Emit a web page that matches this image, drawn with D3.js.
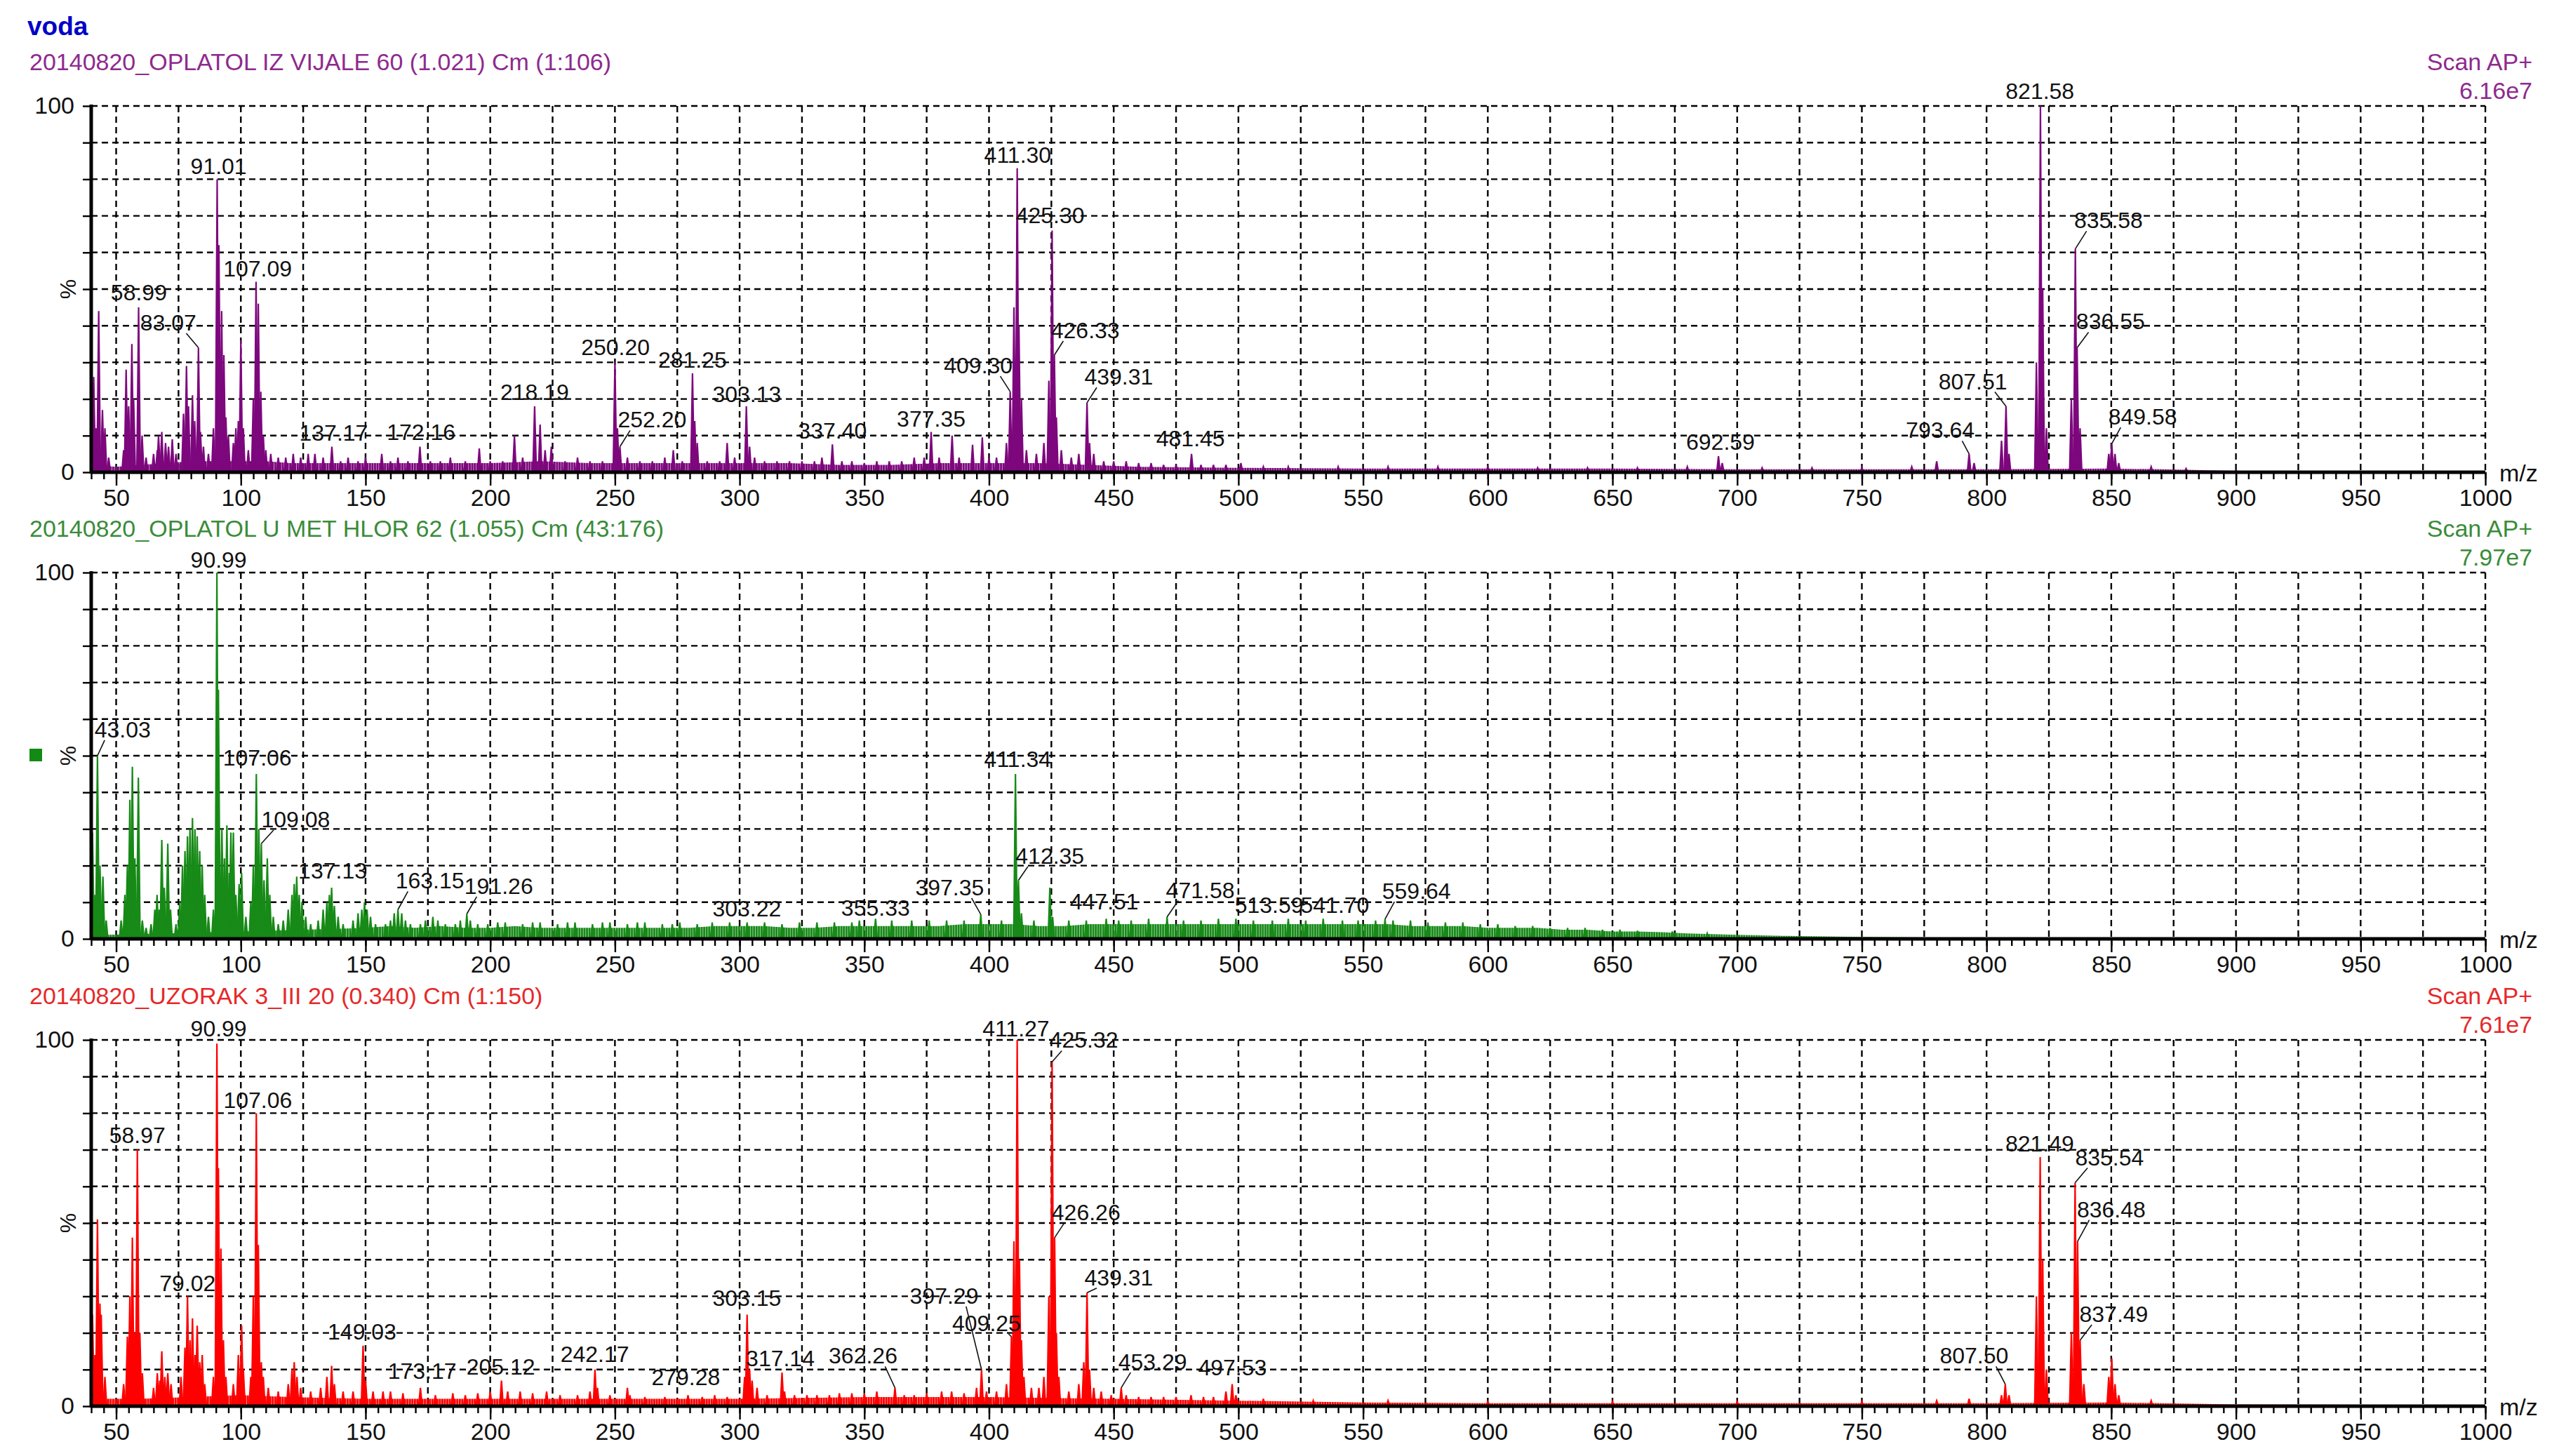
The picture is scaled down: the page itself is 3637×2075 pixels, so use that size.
<!DOCTYPE html>
<html><head><meta charset="utf-8">
<script src="https://cdn.jsdelivr.net/npm/d3@7"></script>
<style>
body{margin:0;background:#fff}
svg{display:block}
text{font-family:"Liberation Sans",Arial,sans-serif}
</style>
</head><body>
<svg id="chart" width="3637" height="2075"></svg>
<script>
// ---------------- DATA ----------------
const xMajorTicks = d3.range(50, 1001, 50);
const xMinorTicks = d3.range(40, 1001, 5);
const xGridValues = d3.range(50, 1001, 25);
const yGridValues = d3.range(10, 101, 10);
const yLabelTicks = [0, 100];

const titles = [
  "20140820_OPLATOL IZ VIJALE 60 (1.021) Cm (1:106)",
  "20140820_OPLATOL U MET HLOR 62 (1.055) Cm (43:176)",
  "20140820_UZORAK 3_III 20 (0.340) Cm (1:150)"
];
const scanLabels = ["Scan AP+", "Scan AP+", "Scan AP+"];
const intensities = ["6.16e7", "7.97e7", "7.61e7"];

// [m/z, relative intensity %]
const peaks1 = [[41,26],[42,12],[43,44],[44.5,17],[45.5,12],[47,4],[53,6],[54,28],[55,18],[56.3,35],[57,20],[59,45],[60.4,10],[62,4],[65,5],[66.5,6],[67,10],[68.3,11],[69.8,8],[71,7],[72.5,9],[74,5],[77,16],[78.2,29],[79,18],[80.6,21],[81.5,14],[83,34],[83.8,11],[85,7],[87,5],[89,12],[90.5,80],[91.2,62],[92.3,44],[93.2,32],[94,15],[95,10],[97,8],[98,12],[99,14],[100,36],[101,12],[103,6],[105,20],[106.1,52],[107,46],[108,22],[109,10],[110,6],[112,5],[115,4],[118,4],[121,5],[124,4],[127,5],[129.7,5],[133,4],[136.5,7],[140,3],[143,4],[147,3],[150,4],[156.5,5],[160,3],[163,4],[167,3],[171.8,7],[176,3],[180,3],[184,4],[190,3],[195.6,6.5],[200,3],[205,3],[209.7,10],[213,4],[217.8,18],[220,13],[222,6],[224.5,7],[230,3],[235,4],[240,3],[245,3],[250,30],[251,12],[252,7],[255,4],[260,3],[265,3],[270,4],[273.4,6],[277,3],[281.1,27],[282,14],[283,8],[287,3],[292,3],[295,8],[298,4],[302.7,18],[304,7],[306,4],[310,3],[315,3],[320,3],[325,3],[330,3],[333,4],[337.2,7.6],[341,3],[345,3],[350,2.5],[355,3],[360,3],[365,3],[370,4],[374,4],[376.8,11],[380,4],[385.2,10],[388,4],[393.4,7.5],[397.3,9.5],[400,4],[403,4],[407,8],[408.5,22],[410,45],[411.3,83],[412,40],[413,20],[415,6],[419,5],[422,8],[424,25],[425.3,66],[426.2,32],[427,15],[429,6],[433,4],[436,5],[439.3,19],[440.3,8],[442,5],[446,3],[450,3],[455,3],[460,2.5],[465,2.5],[470,2],[475,2],[481.2,5],[485,2],[490,2],[495,2],[501,2.5],[510,1.5],[520,1.5],[540,1.5],[560,1.5],[580,1.5],[600,1.5],[620,1.2],[640,1.2],[660,1.2],[680,1.5],[692.5,4.4],[694,2.5],[710,1.2],[730,1.2],[750,1.2],[770,1.5],[780,3],[793,5],[795,2.5],[806,8.6],[807.8,18],[809,5],[820,30],[821.6,100],[822.5,50],[824,12],[834,20],[835.6,61],[836.3,34],[837.5,12],[849,5],[850.2,7.8],[851.5,5],[853,2.5],[866,1.5],[880,1],[900,0.5]];
const noise1 = [[40,2],[50,1.5],[60,2],[70,2.5],[80,3],[90,3],[100,3],[110,3],[120,2.5],[140,2.5],[160,2.5],[180,2.5],[200,2.5],[220,3],[240,2.5],[260,2.5],[280,2.5],[300,2.5],[320,2.5],[340,2],[360,2],[380,2.5],[400,2.5],[420,2.5],[440,2],[460,1.5],[500,1.2],[550,1],[600,1],[650,1],[700,0.8],[750,0.8],[800,0.8],[850,1],[870,0.8],[900,0.4],[950,0.3],[1000,0.3]];

const peaks2 = [[40.5,29],[41.5,12],[42.5,50],[43.5,20],[44.7,17],[46,5],[52,5],[53.5,12],[54.5,20],[55.5,38],[56.5,47],[57.5,22],[58.9,44],[60.5,5],[62,3],[64,4],[65.5,8],[66.4,12],[67.3,8],[68.3,27],[69.3,14],[70.7,26],[71.8,8],[74,4],[75.5,10],[76.6,20],[77.6,24],[78.6,28],[79.6,30],[80.6,33],[81.6,30],[82.5,28],[83.5,24],[84.5,20],[85.5,12],[87,6],[89,8],[90.4,100],[91,68],[92.4,30],[93.4,22],[94.4,31],[95.4,18],[96,29],[97,29],[98,12],[99.3,15],[100.3,18],[102,6],[104,10],[105,20],[106.2,45],[107.2,30],[108.2,26],[109.3,16],[110.6,22],[111.6,12],[113,6],[115,4],[117,5],[119,8],[120.5,12],[121.4,15],[122.4,17],[123.4,12],[124.5,10],[126,6],[128,4],[131,5],[133,8],[134.5,10],[135.5,12],[136.4,14],[137.5,9],[139,6],[141,4],[145,5],[147,7],[148.5,8],[149.6,10],[150.6,8],[152,6],[154,4],[158,4],[160,5],[161.5,7],[163,8],[164.5,7],[166,5],[168,4],[172,4],[174,5],[177,6],[179,5],[182,4],[186,4],[188,5],[190.6,6.8],[192,5],[195,4],[199,4],[203,4.5],[206,4.5],[213,4],[217,4.5],[220,4.5],[227,4],[231,4.5],[234,4.5],[241,4],[245,4.5],[248,4.5],[255,4],[259,4.5],[262,4.5],[269,4],[273,4],[276,4.5],[283,4],[289,4.5],[296,4.5],[303,4.5],[310,4.5],[317,4],[324,4.5],[331,4.5],[338,4.5],[345,4.5],[348,5],[354.5,5.5],[361,5],[369,5],[376,5],[383,5],[390,5],[396.7,6.7],[405,5],[410.6,45],[411.8,16],[413,7],[418,5],[424.4,14],[425.5,6],[432,5],[439,5],[447,5.5],[452,5],[457,5],[464,5.5],[471.4,6],[478,5],[485,5],[492,5.5],[499,5.5],[506,5],[513.6,5],[520,5.5],[527,5],[534,5.5],[541.7,5],[548,5],[555,5],[558.8,5.4],[562,5],[569,5],[576,4.5],[583,4.5],[590,4.5],[597,4],[604,4],[611,3.5],[618,3.5],[625,3],[632,3],[639,3],[646,2.5],[653,2.5],[660,2.2],[674,2],[688,1.5]];
const noise2 = [[40,1],[100,2],[150,3],[160,3.5],[170,3],[180,3.5],[190,3],[200,3],[210,3.5],[220,3],[230,3],[240,3],[250,3],[260,3],[270,3],[280,3],[290,3.5],[300,3.5],[310,3.5],[320,3],[330,3],[340,3.5],[350,3.5],[360,3.5],[370,3.5],[380,3.5],[390,4],[400,4],[410,4],[420,3.5],[430,3.5],[440,4],[450,4],[460,4],[470,4],[480,4],[490,4],[500,4],[510,4],[520,4],[530,4],[540,4],[550,4],[560,4],[570,3.5],[580,3.5],[590,3.5],[600,3],[610,3],[620,3],[630,2.5],[640,2.5],[650,2],[660,2],[670,1.8],[680,1.5],[690,1.3],[700,1.1],[720,0.8],[740,0.6],[760,0.5],[780,0.4],[800,0.3],[850,0.2],[900,0.15],[1000,0.1]];

const peaks3 = [[40.5,25],[41.5,14],[42.5,51],[43.5,28],[44,25],[45.5,8],[53,6],[54.5,19],[55.5,30],[56.5,46],[57.5,20],[58.5,70],[59.5,20],[60.5,9],[65,5],[66.5,9],[67.5,7],[68.3,15],[69.5,8],[70.7,9],[72,6],[76,8],[77.6,16],[78.6,30],[79.6,18],[80.6,24],[81.6,14],[82.5,22],[83.5,12],[84.5,14],[85.5,6],[89,8],[90.4,99],[91,65],[92,43],[93,18],[94,8],[97,6],[99,14],[100.3,22],[101,10],[104,8],[105,30],[106.2,80],[107,44],[108.2,12],[109,8],[111,5],[115,4],[119,6],[120.5,10],[121.4,12],[122.5,8],[124,5],[128,4],[132,5],[134.5,8],[136.4,11],[137.5,6],[141,4],[145,4],[149,16.5],[150,7],[153,4],[157,4],[160,4],[165,3.5],[172,5],[178,3],[185,3.5],[190,3],[195,3.5],[200,4],[204.5,7],[207,4],[212,4],[217,3.5],[222.6,4],[228,3],[235,3],[240,4],[242,10],[243,5],[248,3],[255,5],[256,3],[262,2.5],[270,2.5],[279.3,3],[285,2.5],[290,3],[295,2.5],[302,8],[303,25],[304,10],[305,7],[307,5],[311,3],[317,9.2],[318,4],[322,3],[327,3],[331,3],[336,3],[340,3.5],[345,3.5],[350,3.5],[355,4],[362.3,5],[366,3],[370,3],[375,3.5],[381,4],[385,4],[390,3.5],[395,5],[397,10],[399,4],[403,4],[407,6],[409,19],[410,45],[411.3,100],[412.2,40],[413,18],[414,8],[417,5],[420,5],[422,8],[424,30],[425.3,94],[426.3,46],[427,20],[428,8],[432,4],[436,6],[438,12],[439.3,31],[440.3,10],[442,5],[445,4],[449,3],[453,5],[455,3],[460,2.5],[465,2.5],[470,2.5],[475,2.5],[481,3],[486,2.5],[490,2.5],[495,4],[497.5,6],[499,3],[510,2],[530,1.5],[560,1.5],[600,1.2],[650,1.2],[700,1.2],[750,1.2],[780,1.5],[793,2],[806,3],[807.5,6],[809,3],[820,30],[821.5,68],[822.5,40],[824,10],[834,20],[835.5,61],[836.5,45],[837.5,18],[839,6],[849,8],[850.2,13],[851.5,6],[853,3],[866,1.5]];
const noise3 = [[40,2],[60,2],[100,3],[120,2.5],[150,2],[200,2],[250,2],[300,2],[350,2.5],[400,2.5],[450,2],[500,1.5],[550,1],[600,0.8],[700,0.8],[800,0.8],[850,1],[900,0.5],[1000,0.3]];

// [text, peak m/z, peak %, label centre m/z, label baseline %]
const labels1 = [["58.99",59,45,59.1,47],["83.07",83,34,70.9,38.7],["91.01",90.5,80,91.1,81.5],["107.09",106.1,52,106.7,53.5],["137.17",136.5,7,137.2,8.6],["172.16",171.8,7,172.3,8.8],["218.19",217.8,18,217.8,19.8],["250.20",250,30,250.2,32],["252.20",252,7,264.9,12.2],["281.25",281.1,27,281.1,28.5],["303.13",302.7,18,302.9,19.1],["337.40",337.2,7.6,337.2,9.2],["377.35",376.8,11,376.8,12.4],["409.30",408.5,22,395.7,27],["411.30",411.3,83,411.5,84.4],["425.30",425.3,66,424.5,68],["426.33",426.2,32,438.6,36.6],["439.31",439.3,19,452,23.9],["481.45",481.2,5,480.8,7],["692.59",692.5,4.4,693.3,6.2],["793.64",793,5,781.4,9.3],["807.51",807.8,18,794.5,22.7],["821.58",821.6,100,821.4,102],["835.58",835.6,61,848.9,66.6],["836.55",836.3,34,849.7,39],["849.58",850.2,7.8,862.6,13]];
const labels2 = [["43.03",42.5,50,52.6,55],["90.99",90.4,100,91.1,101.3],["107.06",106.2,45,106.6,47.3],["109.08",108.2,26,122,30.5],["137.13",136.4,14,136.8,16.4],["163.15",163,8,175.8,13.7],["191.26",190.6,6.8,203.4,12.3],["303.22",303,4.5,302.9,6.2],["355.33",354.5,5.5,354.5,6.4],["397.35",396.7,6.7,384.2,11.9],["411.34",410.6,45,411.5,47],["412.35",411.8,16,424.4,20.5],["447.51",447,5.5,446.2,8],["471.58",471.4,6,484.7,11.2],["513.59",513.6,5,512.3,7],["541.70",541.7,5,538.7,7],["559.64",558.8,5.4,571.4,10.9]];
const labels3 = [["58.97",58.5,70,58.5,71.9],["79.02",78.6,30,78.6,31.5],["90.99",90.4,99,91.1,100.9],["107.06",106.2,80,106.8,81.5],["149.03",149,16.5,148.6,18.2],["173.17",172,5,172.7,7.5],["205.12",204.5,7,204.2,8.6],["242.17",242,10,241.9,12],["279.28",279.3,3,278.4,5.8],["303.15",303,25,302.9,27.4],["317.14",317,9.2,316.3,11],["362.26",362.3,5,349.5,11.6],["397.29",397,10,382,28],["409.25",409,19,399,20.5],["411.27",411.3,100,410.8,101],["425.32",425.3,94,438,97.8],["426.26",426.3,46,438.9,50.7],["439.31",439.3,31,452,33],["453.29",453,5,465.6,10],["497.53",497.5,6,497.6,8.4],["807.50",807.5,6,795,11.6],["821.49",821.5,68,821.3,69.5],["835.54",835.5,61,849.3,65.8],["836.48",836.5,45,850,51.6],["837.49",837.5,18,851,23]];

// ---------------- DRAW ----------------
const svg = d3.select("#chart");
const x = d3.scaleLinear().domain([40, 1000]).range([130, 3542]);
const panelH = 522;
const panels = [
  {top:151, line:"#7d077d", txt:"#8e2a8e", peaks:peaks1, noise:noise1, labels:labels1},
  {top:816, line:"#178a17", txt:"#3a8c3a", peaks:peaks2, noise:noise2, labels:labels2},
  {top:1482, line:"#ff0000", txt:"#e52a2a", peaks:peaks3, noise:noise3, labels:labels3}
];

svg.append("rect").attr("width",3637).attr("height",2075).attr("fill","#fff");
svg.append("text").attr("x",39).attr("y",50).attr("font-size",37).attr("font-weight","bold")
  .attr("fill","#0000c8").text("voda");

const defs = svg.append("defs");

panels.forEach((p, i) => {
  const y = d3.scaleLinear().domain([0, 100]).range([p.top + panelH, p.top]);
  const g = svg.append("g");
  const y0 = y(0);

  // titles
  g.append("text").attr("x", 42).attr("y", p.top - 51).attr("font-size", 34).attr("fill", p.txt).text(titles[i]);
  g.append("text").attr("x", 3609).attr("y", p.top - 51).attr("font-size", 34).attr("fill", p.txt)
    .attr("text-anchor","end").text(scanLabels[i]);
  g.append("text").attr("x", 3609).attr("y", p.top - 10).attr("font-size", 34).attr("fill", p.txt)
    .attr("text-anchor","end").text(intensities[i]);

  // grid
  const grid = g.append("g").attr("stroke","#000").attr("stroke-width",2.4).attr("stroke-dasharray","9,6").attr("fill","none");
  grid.selectAll("line.h").data(yGridValues).join("line")
    .attr("x1", x(40)).attr("x2", x(1000)).attr("y1", d => y(d)).attr("y2", d => y(d));
  grid.selectAll("line.v").data(xGridValues).join("line")
    .attr("x1", d => x(d)).attr("x2", d => x(d)).attr("y1", y(100)).attr("y2", y0);

  // noise band pattern
  const pid = "grass" + i;
  const pw = x(41) - x(40);
  const pat = defs.append("pattern").attr("id", pid).attr("patternUnits","userSpaceOnUse")
    .attr("width", pw).attr("height", 10);
  pat.append("rect").attr("width", pw * 0.85).attr("height", 10).attr("fill", p.line);

  const area = d3.area().x(d => x(d[0])).y0(y0).y1(d => y(d[1]));
  g.append("path").datum(p.noise).attr("d", area).attr("fill", `url(#${pid})`);

  // peaks
  const hw = 0.7;
  g.append("g").selectAll("path").data(p.peaks).join("path")
    .attr("d", d => `M${x(d[0]-hw)},${y0} L${x(d[0])},${y(d[1])} L${x(d[0]+hw)},${y0}`)
    .attr("fill", p.line).attr("stroke", p.line).attr("stroke-width", 2.2).attr("stroke-linejoin","miter");

  // x axis
  const minor = d3.axisBottom(x).tickValues(xMinorTicks).tickSize(10).tickFormat("");
  const major = d3.axisBottom(x).tickValues(xMajorTicks).tickSize(19).tickFormat(d3.format("d"));
  const gm = g.append("g").attr("transform", `translate(0,${y0})`).call(minor);
  const gM = g.append("g").attr("transform", `translate(0,${y0})`).call(major);
  [gm, gM].forEach(a => { a.select(".domain").remove(); a.selectAll("line").attr("stroke","#000").attr("stroke-width",2.4); });
  gM.selectAll("text").attr("font-size", 34).attr("font-family",'"Liberation Sans",Arial,sans-serif')
    .attr("fill","#111").attr("y", 48).attr("dy", 0);
  g.append("line").attr("x1", x(40)).attr("x2", x(1000)).attr("y1", y0).attr("y2", y0)
    .attr("stroke","#000").attr("stroke-width",5);
  g.append("text").attr("x", 3562).attr("y", y0 + 13).attr("font-size", 34).attr("fill","#111").text("m/z");

  // y axis
  const ya = d3.axisLeft(y).tickValues(d3.range(0, 101, 10)).tickSize(12).tickPadding(12)
    .tickFormat(d => yLabelTicks.includes(d) ? d : "");
  const gy = g.append("g").attr("transform", `translate(${x(40)},0)`).call(ya);
  gy.select(".domain").remove();
  gy.selectAll("line").attr("stroke","#000").attr("stroke-width",2.4);
  gy.selectAll("text").attr("font-size", 34).attr("font-family",'"Liberation Sans",Arial,sans-serif').attr("fill","#111");
  g.append("line").attr("x1", x(40)).attr("x2", x(40)).attr("y1", y(100) - 2).attr("y2", y0 + 2)
    .attr("stroke","#000").attr("stroke-width",5);
  g.append("text").attr("transform", `translate(97,${y(50)}) rotate(-90)`).attr("text-anchor","middle")
    .attr("dominant-baseline","central").attr("font-size", 32).attr("fill","#111").text("%");

  // peak labels
  const lg = g.append("g");
  p.labels.forEach(l => {
    const [txt, pm, ph, lm, lp] = l;
    const t = lg.append("text").attr("x", x(lm)).attr("y", y(lp)).attr("text-anchor","middle")
      .attr("font-size", 32).attr("fill","#111").text(txt);
    if (Math.abs(lm - pm) > 4) {
      const w = t.node().getComputedTextLength();
      const left = x(lm) - w / 2;
      const sx = lm > pm ? left + 0.18 * w : left + 0.82 * w;
      lg.append("line").attr("x1", sx).attr("y1", y(lp) + 4).attr("x2", x(pm)).attr("y2", y(ph))
        .attr("stroke","#111").attr("stroke-width",1.6);
    }
  });
});

// legend marker square in middle panel
svg.append("rect").attr("x",42).attr("y",1067).attr("width",18).attr("height",18).attr("fill","#138a13");
</script>
</body></html>
